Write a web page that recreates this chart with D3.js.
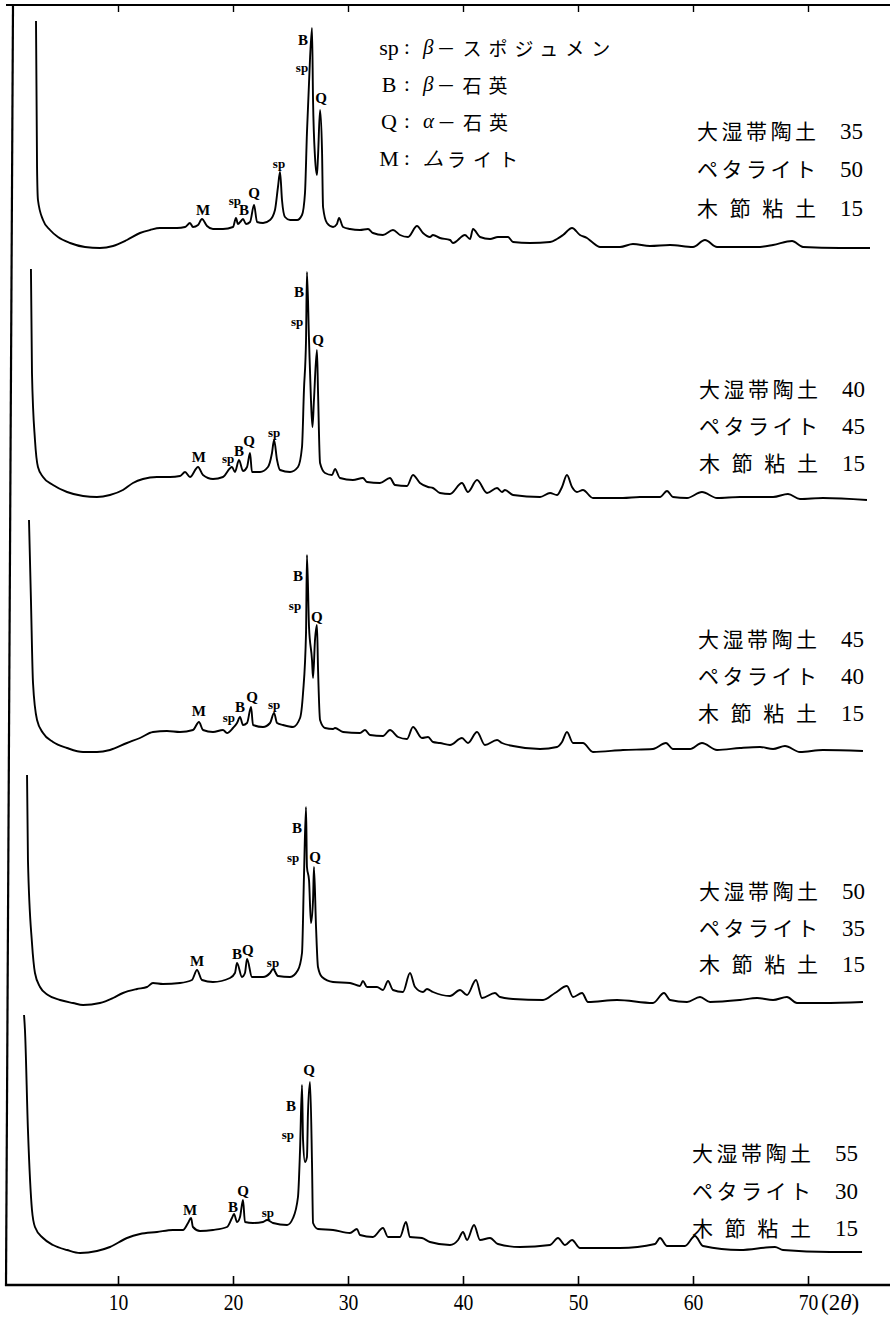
<!DOCTYPE html>
<html><head><meta charset="utf-8">
<script src="https://cdn.jsdelivr.net/npm/d3@7/dist/d3.min.js"></script>
<style>body{margin:0;background:#fff}</style>
</head><body>
<svg id="c" width="890" height="1317"></svg>
<script>
// ---------- data ----------
const tickValues = [10, 20, 30, 40, 50, 60, 70];
const clayA    = ["35", "40", "45", "50", "55"]; // 大湿帯陶土
const petalite = ["50", "45", "40", "35", "30"]; // ペタライト
const kibushi  = ["15", "15", "15", "15", "15"]; // 木節粘土
const legendKeys  = ["sp", "B", "Q", "M"];
const legendNames = ["β－スポジュメン", "β－石英", "α－石英", "ムライト"];

// [2θ, relative intensity]
const pattern1 = [[2.87,229],[2.96,83],[3.04,50],[3.48,30],[4.09,20],[4.78,13],[5.83,7],[7.13,3],[8.43,2],[9.57,4],[10.78,10],[11.91,17],[12.78,20],[13.65,22],[14.26,22],[15.13,22],[15.83,23],[16.26,27],[16.52,23],[16.96,25],[17.30,31],[17.74,24],[18.26,21],[19.13,21],[20.0,23],[20.26,32],[20.43,26],[20.70,29],[20.87,31],[21.13,26],[21.48,28],[21.83,45],[22.09,28],[22.61,27],[23.22,30],[23.65,40],[23.91,63],[24.09,78],[24.26,50],[24.52,33],[24.96,30],[25.57,30],[26.0,35],[26.26,57],[26.43,117],[26.61,167],[26.87,222],[26.96,150],[27.13,93],[27.30,75],[27.39,93],[27.57,140],[27.74,100],[27.83,43],[28.17,27],[28.70,23],[29.04,26],[29.22,32],[29.57,23],[30.17,21],[31.04,20],[31.74,21],[32.17,17],[33.04,15],[33.91,20],[34.52,15],[35.22,13],[36.0,24],[36.52,17],[37.13,13],[37.39,15],[38.0,12],[38.87,10],[39.13,7],[40.17,15],[40.61,11],[40.87,21],[41.48,13],[42.35,11],[43.04,13],[43.91,13],[44.35,8],[45.83,7],[47.57,8],[48.17,11],[48.70,15],[49.48,22],[50.17,15],[50.78,12],[51.22,8],[51.91,3],[53.65,3],[54.78,6],[56.26,4],[58.0,5],[60.0,3],[61.04,10],[62.09,3],[65.57,3],[66.96,5],[68.61,9],[69.57,3],[72.78,2],[75.39,2]];
const pattern2 = [[2.43,231],[2.52,127],[2.78,60],[3.04,33],[3.48,23],[4.35,15],[5.57,8],[6.96,4],[8.17,3],[9.30,5],[10.43,10],[11.30,17],[12.17,21],[13.39,23],[14.52,23],[15.39,24],[15.83,28],[16.26,23],[16.96,33],[17.39,25],[18.26,21],[19.13,23],[19.91,33],[20.17,28],[20.52,40],[20.87,29],[21.22,33],[21.48,47],[21.65,28],[22.35,28],[23.04,33],[23.39,47],[23.57,60],[23.83,40],[24.09,30],[24.96,28],[25.65,33],[26.0,53],[26.17,110],[26.35,160],[26.43,228],[26.61,160],[26.78,100],[26.91,73],[27.04,100],[27.30,150],[27.39,110],[27.57,37],[28.0,27],[28.61,25],[28.87,31],[29.30,22],[30.43,20],[31.30,22],[31.65,18],[32.78,17],[33.65,22],[34.09,15],[35.13,14],[35.65,25],[36.26,17],[36.96,13],[37.39,12],[38.0,7],[38.87,6],[39.91,17],[40.43,8],[41.22,20],[42.09,7],[42.96,12],[43.39,8],[43.65,10],[44.35,5],[46.70,3],[47.57,7],[48.17,5],[48.61,13],[49.04,25],[49.48,13],[49.91,8],[50.43,10],[51.30,2],[53.91,2],[55.39,3],[57.13,3],[57.74,9],[58.26,3],[59.48,2],[60.78,8],[62.09,2],[64.09,3],[66.96,3],[68.26,6],[69.30,1],[71.30,2],[75.13,0]];
const pattern3 = [[2.26,235],[2.43,155],[2.61,72],[2.96,35],[3.48,22],[4.35,13],[5.57,7],[6.96,3],[8.17,3],[9.30,5],[10.78,12],[11.91,17],[13.04,23],[14.26,24],[15.39,23],[16.52,25],[17.04,33],[17.39,25],[18.26,23],[19.13,25],[19.48,22],[20.0,27],[20.35,32],[20.61,38],[20.87,30],[21.22,32],[21.57,48],[21.74,30],[22.61,28],[23.22,32],[23.57,42],[23.83,32],[24.35,30],[25.22,28],[25.83,37],[26.09,62],[26.35,122],[26.43,200],[26.61,128],[26.87,95],[26.96,77],[27.13,115],[27.30,130],[27.39,88],[27.57,35],[28.0,27],[28.70,26],[28.87,27],[29.57,23],[31.04,22],[31.48,25],[31.91,20],[33.04,19],[33.65,25],[34.35,18],[35.13,16],[35.65,28],[36.43,17],[36.96,18],[37.39,13],[38.0,12],[38.87,10],[39.91,17],[40.43,12],[41.22,23],[41.91,10],[42.96,15],[43.39,12],[44.35,9],[46.70,6],[48.17,8],[48.61,13],[49.04,23],[49.57,12],[50.43,12],[51.30,3],[53.91,5],[56.52,6],[57.65,12],[58.26,6],[59.74,6],[60.78,12],[62.09,5],[64.09,7],[65.83,8],[66.96,6],[68.0,9],[69.30,3],[71.30,5],[74.78,4]];
const pattern4 = [[2.09,231],[2.17,146],[2.52,63],[2.78,33],[3.22,19],[3.91,11],[4.96,6],[6.09,3],[6.96,1],[8.43,3],[9.57,8],[10.43,13],[11.65,17],[12.52,19],[13.04,23],[13.91,22],[15.39,23],[16.43,26],[16.87,36],[17.30,26],[18.26,24],[19.74,28],[20.17,33],[20.35,43],[20.78,29],[21.04,33],[21.22,47],[21.65,29],[22.61,29],[23.22,33],[23.48,37],[23.91,30],[24.96,29],[25.65,36],[26.0,53],[26.17,129],[26.35,199],[26.43,139],[26.61,126],[26.78,83],[26.96,106],[27.04,139],[27.22,79],[27.39,39],[27.74,29],[28.70,24],[30.17,23],[31.04,20],[31.30,25],[31.65,19],[32.52,19],[33.04,16],[33.48,25],[33.91,16],[34.78,14],[35.39,33],[35.83,19],[36.52,14],[36.87,17],[37.39,14],[38.87,10],[39.74,16],[40.35,11],[41.13,26],[41.65,8],[42.78,13],[43.22,9],[44.35,7],[46.96,6],[48.0,13],[49.04,20],[49.57,9],[50.35,13],[50.87,4],[53.39,6],[56.52,3],[57.48,13],[58.0,6],[59.48,4],[60.61,9],[61.48,4],[64.09,6],[65.57,8],[66.96,6],[68.17,9],[69.04,3],[71.30,3],[74.78,4]];
const pattern5 = [[1.83,241],[1.91,226],[2.17,126],[2.52,46],[2.78,29],[3.48,18],[4.35,11],[5.57,6],[6.70,3],[8.17,5],[9.30,9],[10.78,18],[11.91,22],[13.39,24],[14.78,26],[15.65,26],[16.09,33],[16.35,38],[16.52,29],[17.13,25],[18.26,26],[19.48,29],[19.91,38],[20.09,42],[20.35,34],[20.61,39],[20.87,56],[21.04,34],[21.74,33],[22.61,34],[22.96,36],[23.48,33],[24.70,31],[25.22,38],[25.65,59],[25.83,106],[26.0,171],[26.09,116],[26.26,94],[26.43,99],[26.52,143],[26.70,174],[26.87,93],[26.96,33],[27.39,27],[28.70,26],[30.17,23],[30.78,27],[31.04,21],[32.17,19],[33.04,28],[33.48,19],[34.52,19],[35.04,34],[35.39,19],[36.43,18],[37.13,14],[38.87,11],[39.57,16],[40.0,24],[40.35,16],[40.96,31],[41.48,16],[42.35,18],[43.04,12],[44.96,9],[47.57,11],[48.26,18],[48.87,11],[49.48,16],[50.17,8],[53.65,8],[56.7,12],[57.13,18],[57.74,10],[59.3,10],[60.17,20],[60.87,10],[64.09,6],[67.13,9],[67.83,6],[71.91,4],[74.7,4]];

// peak labels: [text, 2θ, intensity]
const peaks1 = [["B",26.09,210],["sp",26.0,183],["Q",27.65,152],["sp",24.0,87],["M",17.39,40],["sp",20.17,50],["B",20.96,40],["Q",21.83,57]];
const peaks2 = [["B",25.74,208],["sp",25.57,179],["Q",27.39,160],["sp",23.57,68],["M",17.04,43],["sp",19.57,42],["B",20.52,49],["Q",21.39,59]];
const peaks3 = [["B",25.65,179],["sp",25.39,150],["Q",27.30,138],["sp",23.57,51],["M",17.04,44],["sp",19.65,38],["B",20.61,48],["Q",21.65,58]];
const peaks4 = [["B",25.57,178],["sp",25.22,149],["Q",27.13,149],["sp",23.48,44],["M",16.87,45],["B",20.35,52],["Q",21.30,56]];
const peaks5 = [["Q",26.61,186],["B",25.04,150],["sp",24.78,122],["M",16.26,46],["B",20.0,49],["Q",20.87,65],["sp",23.04,44]];

const patterns = [pattern1, pattern2, pattern3, pattern4, pattern5];
const peakSets = [peaks1, peaks2, peaks3, peaks4, peaks5];

// ---------- layout ----------
const panelZero = [250, 500, 755, 1006, 1256];         // pixel y of intensity 0
const labelRows = [[130,168,207],[388,425,462],[638,675,712],[890,927,963],[1152,1190,1227]];
const labelX = [697, 699, 698, 699, 692];

const svg = d3.select("#c");
const x = d3.scaleLinear().domain([0, 77]).range([3, 888.5]);
const y = d3.scaleLinear().domain([0, 250]).range([250, 0]);
const line = d3.line().x(d => x(d[0])).y(d => y(d[1])).curve(d3.curveMonotoneX);

const serif = "'Liberation Serif','DejaVu Serif',serif";
const cjk = "'Noto Sans CJK JP','Noto Sans CJK SC',sans-serif";

// frame
svg.append("line").attr("x1", 6).attr("x2", 890).attr("y1", 5).attr("y2", 5)
  .attr("stroke", "#000").attr("stroke-width", 2.2);
svg.append("line").attr("x1", 13).attr("x2", 6).attr("y1", 4).attr("y2", 1286)
  .attr("stroke", "#000").attr("stroke-width", 2.2);

// top ticks
const topAxis = svg.append("g").attr("transform", "translate(0,5)")
  .call(d3.axisTop(x).tickValues(tickValues).tickSizeInner(-7).tickSizeOuter(0).tickFormat(""));
topAxis.select(".domain").remove();
topAxis.selectAll("line").attr("stroke", "#000").attr("stroke-width", 1.4);

// bottom axis
const bAxis = svg.append("g").attr("transform", "translate(0,1285)")
  .call(d3.axisBottom(x).tickValues(tickValues).tickSizeInner(-9).tickSizeOuter(0).tickPadding(8));
bAxis.select(".domain").attr("stroke-width", 2.4).attr("d", "M5,0H890");
bAxis.selectAll("line").attr("stroke-width", 1.6);
bAxis.selectAll("text").attr("font-family", serif).attr("font-size", 24).attr("fill", "#000")
  .attr("transform", "scale(0.82,1)");
svg.append("text").attr("x", x(70) + 13).attr("y", 1310)
  .attr("font-family", serif).attr("font-size", 23)
  .html("(2<tspan font-style='italic'>θ</tspan>)");

// panels
patterns.forEach((pat, i) => {
  const g = svg.append("g").attr("transform", `translate(0,${panelZero[i] - 250})`);
  g.append("path").datum(pat).attr("d", line)
    .attr("fill", "none").attr("stroke", "#000").attr("stroke-width", 1.9)
    .attr("stroke-linejoin", "round");
  g.selectAll("text.pk").data(peakSets[i]).join("text").attr("class", "pk")
    .attr("x", d => x(d[1])).attr("y", d => y(d[2]))
    .attr("text-anchor", "middle").attr("dominant-baseline", "central")
    .attr("font-family", serif).attr("font-weight", "bold")
    .attr("font-size", d => d[0] === "sp" ? 13 : 15)
    .text(d => d[0]);

  const names = ["大湿帯陶土", "ペタライト", "木節粘土"];
  const vals = [clayA[i], petalite[i], kibushi[i]];
  names.forEach((nm, k) => {
    svg.append("text").attr("x", labelX[i]).attr("y", labelRows[i][k])
      .attr("dominant-baseline", "central").attr("font-family", cjk).attr("font-size", 21)
      .attr("textLength", 119).attr("lengthAdjust", "spacing").text(nm);
    svg.append("text").attr("x", labelX[i] + 143).attr("y", labelRows[i][k] + 1)
      .attr("dominant-baseline", "central").attr("font-family", serif).attr("font-size", 23)
      .text(vals[k]);
  });
});

// legend
const legRows = [47, 84, 121, 158];
legendKeys.forEach((k, i) => {
  svg.append("text").attr("x", 389).attr("y", legRows[i]).attr("text-anchor", "middle")
    .attr("dominant-baseline", "central").attr("font-family", serif).attr("font-size", 22).text(k);
  svg.append("text").attr("x", 407).attr("y", legRows[i]).attr("text-anchor", "middle")
    .attr("dominant-baseline", "central").attr("font-family", serif).attr("font-size", 21).text(":");
  const t = svg.append("text").attr("x", 423).attr("y", legRows[i])
    .attr("dominant-baseline", "central").attr("font-size", 19);
  const nm = legendNames[i];
  t.append("tspan").attr("font-family", serif).attr("font-style", "italic").attr("font-size", 21).text(nm[0]);
  t.append("tspan").attr("font-family", cjk).attr("dx", 3).attr("letter-spacing", 7).text(nm.slice(1));
});
</script>
</body></html>
